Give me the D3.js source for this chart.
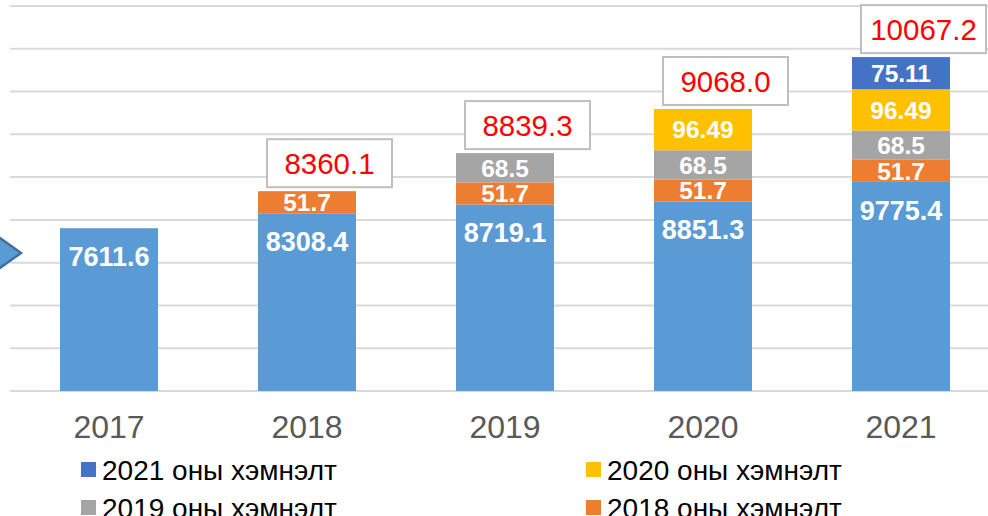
<!DOCTYPE html>
<html>
<head>
<meta charset="utf-8">
<script src="https://cdn.jsdelivr.net/npm/d3@7"></script>
<style>
  body { margin: 0; background: #fff; }
  svg { display: block; font-family: "Liberation Sans", Arial, sans-serif; }
</style>
</head>
<body>
<div id="chart"></div>
<script>
// Stacked bars: base value per year plus yearly additions (labels in original units)
const years = ["2017", "2018", "2019", "2020", "2021"];
const baseValues = [7611.6, 8308.4, 8719.1, 8851.3, 9775.4];
const add2018 = [0, 51.7, 51.7, 51.7, 51.7];
const add2019 = [0, 0, 68.5, 68.5, 68.5];
const add2020 = [0, 0, 0, 96.49, 96.49];
const add2021 = [0, 0, 0, 0, 75.11];
const yTicks = [0, 2000, 4000, 6000, 8000, 10000, 12000, 14000, 16000, 18000];

const legendNames = ["2021 оны хэмнэлт", "2020 оны хэмнэлт", "2019 оны хэмнэлт", "2018 оны хэмнэлт"];
const legendKeys = ["a2021", "a2020", "a2019", "a2018"];

// the original stretches the small additions so they are visible
const addStretch = 20;

const colors = {
  base: "#5b9bd5",
  a2018: "#ed7d31",
  a2019: "#a5a5a5",
  a2020: "#ffc000",
  a2021: "#4472c4"
};

const w = 988, h = 516;
const svg = d3.select("#chart").append("svg")
  .attr("width", w)
  .attr("height", h);

// scales
const y = d3.scaleLinear().domain([0, 18000]).range([391, 6]);
const x = d3.scaleBand().domain(years).range([10, 1000])
  .paddingInner(0.505).paddingOuter(0.2525);

// rows for d3.stack
const rows = years.map((yr, i) => ({
  year: yr,
  base: baseValues[i],
  a2018: add2018[i],
  a2019: add2019[i],
  a2020: add2020[i],
  a2021: add2021[i]
}));
const keys = ["base", "a2018", "a2019", "a2020", "a2021"];
const stack = d3.stack().keys(keys)
  .value((d, k) => k === "base" ? d[k] : d[k] * addStretch);
const layers = stack(rows);

// gridlines
svg.append("g").selectAll("line")
  .data(yTicks)
  .join("line")
  .attr("x1", 10).attr("x2", w)
  .attr("y1", d => y(d)).attr("y2", d => y(d))
  .attr("stroke", "#d9d9d9")
  .attr("stroke-width", 2);

// left decoration arrow (partially visible)
svg.append("path")
  .attr("d", "M-10,231 L21,253 L-10,275 Z")
  .attr("fill", "#5b9bd5")
  .attr("stroke", "#41719c")
  .attr("stroke-width", 2.5);

// bars
const layerG = svg.append("g").selectAll("g")
  .data(layers)
  .join("g")
  .attr("fill", d => colors[d.key]);

layerG.selectAll("rect")
  .data(d => d)
  .join("rect")
  .attr("x", d => x(d.data.year))
  .attr("width", x.bandwidth())
  .attr("y", d => y(d[1]))
  .attr("height", d => y(d[0]) - y(d[1]));

// value labels inside segments
layers.forEach(layer => {
  layer.forEach(s => {
    const v = s.data[layer.key];
    if (!v) return;
    const isBase = layer.key === "base";
    const cy = isBase ? y(s[1]) + 28 : (y(s[0]) + y(s[1])) / 2;
    svg.append("text")
      .attr("x", x(s.data.year) + x.bandwidth() / 2)
      .attr("y", cy)
      .attr("dy", "0.36em")
      .attr("text-anchor", "middle")
      .attr("fill", "#fff")
      .attr("font-weight", "bold")
      .attr("font-size", isBase ? 27 : 24.5)
      .text(isBase ? d3.format(".1f")(v) : v);
  });
});

// total boxes above the stacks
const topLayer = layers[layers.length - 1];
rows.forEach((r, i) => {
  if (i === 0) return;
  const total = r.base + r.a2018 + r.a2019 + r.a2020 + r.a2021;
  const bx = x(r.year) + 9, bw = 125, bh = 48;
  const by = y(topLayer[i][1]) - 4 - bh;
  svg.append("rect")
    .attr("x", bx).attr("y", by)
    .attr("width", bw).attr("height", bh)
    .attr("fill", "#fff")
    .attr("stroke", "#bfbfbf")
    .attr("stroke-width", 2);
  svg.append("text")
    .attr("x", bx + bw / 2)
    .attr("y", by + bh / 2)
    .attr("dy", "0.36em")
    .attr("text-anchor", "middle")
    .attr("fill", "#ff0000")
    .attr("font-size", 29.5)
    .text(d3.format(".1f")(total));
});

// x axis labels
const xAxis = svg.append("g")
  .attr("transform", "translate(0,391)")
  .call(d3.axisBottom(x).tickSize(0).tickPadding(24));
xAxis.select(".domain").remove();
xAxis.selectAll("text")
  .attr("font-size", 32)
  .attr("font-family", "Liberation Sans, Arial, sans-serif")
  .attr("fill", "#595959");

// legend, two columns (second row runs off the bottom edge, as in the original)
const legend = svg.append("g").selectAll("g")
  .data(legendKeys)
  .join("g")
  .attr("transform", (d, i) => `translate(${i % 2 === 0 ? 81 : 586},${462 + Math.floor(i / 2) * 38})`);

legend.append("rect")
  .attr("width", 15).attr("height", 15)
  .attr("fill", d => colors[d]);

legend.append("text")
  .attr("x", 21)
  .attr("y", 18)
  .attr("font-size", 28)
  .attr("fill", "#000")
  .text((d, i) => legendNames[i]);
</script>
</body>
</html>
